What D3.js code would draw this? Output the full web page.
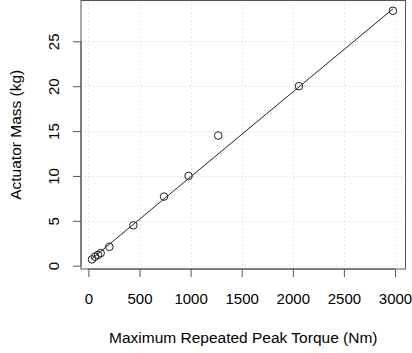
<!DOCTYPE html>
<html><head><meta charset="utf-8">
<script src="https://cdn.jsdelivr.net/npm/d3@7"></script>
<style>body{margin:0;background:#fff}svg{display:block}text{font-family:"Liberation Sans",Arial,sans-serif;fill:#000}</style>
</head><body><svg id="c" width="412" height="353"></svg>
<script>
const torque = [35, 65, 95, 120, 205, 440, 740, 980, 1270, 2060, 2980];
const mass   = [0.7, 1.0, 1.2, 1.4, 2.1, 4.5, 7.7, 10.0, 14.5, 20.0, 28.4];
const fitX = [35, 2980];
const fitIntercept = 0.45, fitSlope = 0.00945;
const xTicks = [0, 500, 1000, 1500, 2000, 2500, 3000];
const yTicks = [0, 5, 10, 15, 20, 25];
const xTitle = "Maximum Repeated Peak Torque (Nm)";
const yTitle = "Actuator Mass (kg)";

const L = 81, R = 405.5, T = 0.5, B = 269;
const svg = d3.select("#c");
const x = d3.scaleLinear().domain([0, 3000]).range([88.4, 395]);
const y = d3.scaleLinear().domain([0, 25]).range([265.7, 41.3]);

// grid
const g = svg.append("g").attr("stroke", "#d3d3d3").attr("stroke-dasharray", "1,3").attr("stroke-width", 1);
g.selectAll(".vx").data(xTicks).join("line").attr("x1", d => Math.round(x(d)) + 0.5).attr("x2", d => Math.round(x(d)) + 0.5).attr("y1", T).attr("y2", B);
g.selectAll(".hy").data(yTicks).join("line").attr("y1", d => Math.round(y(d)) + 0.5).attr("y2", d => Math.round(y(d)) + 0.5).attr("x1", L).attr("x2", R);

// fit line
svg.append("line")
  .attr("x1", x(fitX[0])).attr("y1", y(fitIntercept + fitSlope * fitX[0]))
  .attr("x2", x(fitX[1])).attr("y2", y(fitIntercept + fitSlope * fitX[1]))
  .attr("stroke", "#222").attr("stroke-width", 1);

// points
svg.selectAll("circle").data(torque).join("circle")
  .attr("cx", d => x(d)).attr("cy", (d, i) => y(mass[i])).attr("r", 3.8)
  .attr("fill", "none").attr("stroke", "#222").attr("stroke-width", 1);

// box
svg.append("rect").attr("x", L).attr("y", T).attr("width", R - L).attr("height", B - T)
  .attr("fill", "none").attr("stroke", "#555").attr("stroke-width", 1);

// axes
const xa = svg.append("g").attr("transform", `translate(0,${B})`)
  .call(d3.axisBottom(x).tickValues(xTicks).tickSize(8).tickPadding(16).tickFormat(d3.format("d")));
const ya = svg.append("g").attr("transform", `translate(${L},0)`)
  .call(d3.axisLeft(y).tickValues(yTicks).tickSize(8).tickPadding(4).tickFormat(d3.format("d")));
[xa, ya].forEach(a => {
  a.selectAll("path,line").attr("stroke", "#555");
  a.selectAll("text").style("font-size", "15px").style("font-family", "'Liberation Sans',Arial,sans-serif").attr("fill", "#000");
});
xa.select(".domain").attr("d", `M${x(0)},0H${x(3000)}`);
ya.select(".domain").attr("d", `M0,${y(0)}V${y(25)}`);
ya.selectAll(".tick text").attr("transform", "rotate(-90)").attr("x", 0).attr("y", -22.5).attr("dy", "0").attr("text-anchor", "middle");

svg.append("text").attr("x", (L + R) / 2).attr("y", 343).attr("text-anchor", "middle").style("font-size", "15.5px").text(xTitle);
svg.append("text").attr("transform", `translate(21,${(T + B) / 2}) rotate(-90)`).attr("text-anchor", "middle").style("font-size", "15.5px").text(yTitle);
</script></body></html>
